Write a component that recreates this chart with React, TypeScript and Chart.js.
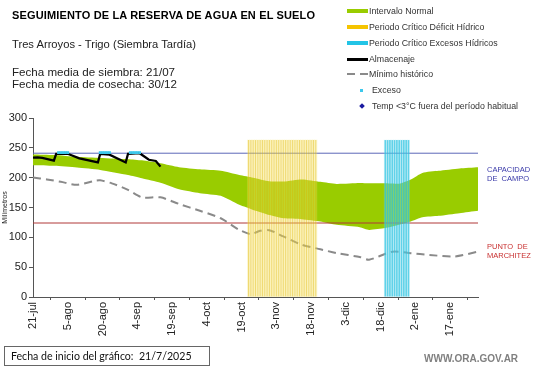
import React, { useEffect, useRef } from "react";
import { Chart, registerables } from "chart.js";

Chart.register(...registerables);

// ---- data (x = days since 21/7/2025) ----
const tickLabels = ["21-jul", "5-ago", "20-ago", "4-sep", "19-sep", "4-oct", "19-oct", "3-nov", "18-nov", "3-dic", "18-dic", "2-ene", "17-ene"];
const diasTotales = 192;

const bandDias = [0, 9, 19, 29, 41, 47, 55, 63, 72, 81, 89, 95, 102, 108, 116, 124, 131, 141, 145, 152, 158, 163, 168, 175, 184, 192];
const bandSuperior = [239, 238, 235, 233, 231, 229, 224, 217.5, 214, 211.5, 204.5, 200, 194, 193.5, 197, 193, 189.5, 191, 190.5, 190.5, 190, 197, 208, 211.5, 215.5, 217.5];
const bandInferior = [221, 220, 217, 213, 204.5, 199, 191.5, 180.5, 174, 169.5, 154.5, 146, 137.5, 132, 130.5, 126.5, 121, 117, 112.5, 115.5, 121, 126.5, 133.5, 136, 140.5, 144.5];

const minimoDias = [0, 6, 12, 19, 27, 29, 34, 41, 47, 55, 63, 72, 81, 89, 94, 98, 102, 108, 116, 124, 131, 141, 145, 155, 163, 171, 182, 192];
const minimoHistorico = [200.5, 197, 193, 188, 195, 195.5, 190.5, 179.5, 167, 167, 156, 144.5, 132, 112.5, 105.5, 111, 112, 101.5, 87.5, 80, 73.5, 67, 62.5, 76, 73.5, 70.5, 68, 76];

const almacenajeDias = [0, 2, 4, 9, 10, 15, 20, 28, 29, 33, 40, 41, 46, 50, 53, 55];
const almacenajeMm = [233.5, 234, 233, 228.5, 240, 240, 232.5, 225.5, 240, 238.5, 225.5, 240, 241, 230, 228, 218.5];

const excesoDias = [11, 12, 13, 14, 15, 29, 30, 31, 32, 33, 42, 43, 44, 45, 46];
const excesoMm = [242, 242, 242, 242, 242, 242, 242, 242, 242, 242, 242, 242, 242, 242, 242];

const periodoDeficit = [93, 122];
const periodoExcesos = [152, 162];
const alturaPeriodo = 263;

const capacidadCampo = 241;
const puntoMarchitez = 124;

const pts = (xs: number[], ys: number[]) => xs.map((x, i) => ({ x, y: ys[i] }));
const rango = (p: number[]) => {
  const out: { x: number; y: number }[] = [];
  for (let d = p[0]; d <= p[1]; d++) out.push({ x: d, y: alturaPeriodo });
  return out;
};

const FONT = "'Liberation Sans', Arial, sans-serif";

function ChartCanvas() {
  const ref = useRef<HTMLCanvasElement | null>(null);
  useEffect(() => {
    if (!ref.current) return;
    const chart = new Chart(ref.current, {
      type: "line",
      data: {
        datasets: [
          {
            type: "line",
            data: pts(excesoDias, excesoMm),
            showLine: false,
            pointStyle: "rect",
            pointRadius: 2,
            pointBackgroundColor: "#3cc8ec",
            pointBorderWidth: 0,
            order: 0,
          },
          {
            type: "line",
            data: pts(almacenajeDias, almacenajeMm),
            borderColor: "#000",
            borderWidth: 2.3,
            pointRadius: 0,
            tension: 0,
            order: 1,
          },
          {
            type: "bar",
            data: rango(periodoDeficit),
            backgroundColor: "rgba(228,190,20,0.5)",
            barPercentage: 0.45,
            categoryPercentage: 1,
            grouped: false,
            order: 2,
          },
          {
            type: "bar",
            data: rango(periodoDeficit),
            backgroundColor: "rgba(245,225,100,0.3)",
            barPercentage: 1,
            categoryPercentage: 1,
            grouped: false,
            order: 3,
          },
          {
            type: "bar",
            data: rango(periodoExcesos),
            backgroundColor: "rgba(40,195,225,0.7)",
            barPercentage: 0.7,
            categoryPercentage: 1,
            grouped: false,
            order: 2,
          },
          {
            type: "bar",
            data: rango(periodoExcesos),
            backgroundColor: "rgba(150,225,240,0.25)",
            barPercentage: 1,
            categoryPercentage: 1,
            grouped: false,
            order: 3,
          },
          {
            type: "line",
            data: pts(minimoDias, minimoHistorico),
            borderColor: "#8a8a8a",
            borderWidth: 2,
            borderDash: [8, 5],
            pointRadius: 0,
            tension: 0.25,
            order: 4,
          },
          {
            type: "line",
            data: [{ x: 0, y: capacidadCampo }, { x: diasTotales, y: capacidadCampo }],
            borderColor: "#5d68b8",
            borderWidth: 1,
            pointRadius: 0,
            order: 5,
          },
          {
            type: "line",
            data: [{ x: 0, y: puntoMarchitez }, { x: diasTotales, y: puntoMarchitez }],
            borderColor: "#b03838",
            borderWidth: 1,
            pointRadius: 0,
            order: 5,
          },
          {
            type: "line",
            data: pts(bandDias, bandSuperior),
            borderWidth: 0,
            borderColor: "rgba(0,0,0,0)",
            backgroundColor: "#99cc00",
            fill: "+1",
            pointRadius: 0,
            tension: 0.2,
            order: 6,
          },
          {
            type: "line",
            data: pts(bandDias, bandInferior),
            borderWidth: 0,
            borderColor: "rgba(0,0,0,0)",
            pointRadius: 0,
            tension: 0.2,
            fill: false,
            order: 6,
          },
        ] as any,
      },
      options: {
        animation: false,
        responsive: false,
        devicePixelRatio: 1,
        layout: { padding: { left: 0, right: 63, top: 118, bottom: 0 } },
        plugins: { legend: { display: false }, tooltip: { enabled: false } },
        scales: {
          x: {
            type: "linear",
            min: 0,
            max: diasTotales,
            offset: false,
            afterFit: (s: any) => {
              s.height = 71;
            },
            afterBuildTicks: (s: any) => {
              s.ticks = s.ticks.filter((t: any) => t.value % 15 === 0 && t.value / 15 < tickLabels.length);
            },
            ticks: {
              stepSize: 15,
              includeBounds: false,
              autoSkip: false,
              maxRotation: 90,
              minRotation: 90,
              padding: 2,
              color: "#222",
              font: { family: FONT, size: 11 },
              callback: (v: any) => tickLabels[Math.round(Number(v) / 15)] ?? "",
            },
            grid: { drawOnChartArea: false, tickLength: 3, color: "#555" },
            border: { color: "#555", width: 1 },
          },
          y: {
            min: 0,
            max: 300,
            afterFit: (s: any) => {
              s.width = 33;
            },
            ticks: {
              stepSize: 50,
              padding: 2,
              color: "#222",
              font: { family: FONT, size: 11 },
            },
            title: {
              display: true,
              text: "Milímetros",
              color: "#222",
              font: { family: FONT, size: 7 },
              padding: { top: 1, bottom: 0 },
            },
            grid: { drawOnChartArea: false, tickLength: 4, color: "#555" },
            border: { color: "#555", width: 1 },
          },
        },
      },
    });
    return () => chart.destroy();
  }, []);
  return <canvas ref={ref} width={541} height={368} style={{ position: "absolute", left: 0, top: 0 }} />;
}

const txt = (
  left: number,
  centerY: number,
  size: number,
  content: string,
  extra: React.CSSProperties = {}
) => (
  <div
    style={{
      position: "absolute",
      left,
      top: centerY - size / 2,
      fontSize: size,
      lineHeight: `${size}px`,
      fontFamily: FONT,
      color: "#222",
      whiteSpace: "nowrap",
      ...extra,
    }}
  >
    {content}
  </div>
);

const legendItems = [
  { label: "Intervalo Normal", y: 11, kind: "bar", color: "#99cc00" },
  { label: "Periodo Crítico Déficit Hídrico", y: 27, kind: "bar", color: "#f5c400" },
  { label: "Periodo Crítico Excesos Hídricos", y: 43, kind: "bar", color: "#22c4e6" },
  { label: "Almacenaje", y: 59, kind: "line", color: "#000" },
  { label: "Mínimo histórico", y: 74, kind: "dash", color: "#8a8a8a" },
  { label: "Exceso", y: 90, kind: "dot", color: "#3cc8ec" },
  { label: "Temp <3°C fuera del período habitual", y: 106, kind: "diamond", color: "#1a1aa0" },
];

export default function App() {
  return (
    <div style={{ position: "absolute", left: 0, top: 0, width: 541, height: 368, background: "#fff", overflow: "hidden" }}>
      <ChartCanvas />
      {txt(12, 15, 11, "SEGUIMIENTO DE LA RESERVA DE AGUA EN EL SUELO", { fontWeight: "bold", color: "#000", letterSpacing: 0.15 })}
      {txt(12, 45, 11.2, "Tres Arroyos - Trigo (Siembra Tardía)")}
      {txt(12, 72, 11.6, "Fecha media de siembra: 21/07")}
      {txt(12, 84, 11.6, "Fecha media de cosecha: 30/12")}
      {legendItems.map((it) => {
        const sw: React.ReactNode[] = [];
        if (it.kind === "bar") {
          sw.push(<div key="s" style={{ position: "absolute", left: 347, top: it.y - 2, width: 21, height: 4, background: it.color }} />);
        } else if (it.kind === "line") {
          sw.push(<div key="s" style={{ position: "absolute", left: 347, top: it.y - 1, width: 21, height: 2.5, background: it.color }} />);
        } else if (it.kind === "dash") {
          sw.push(<div key="s1" style={{ position: "absolute", left: 347, top: it.y - 1, width: 8, height: 1.5, background: it.color }} />);
          sw.push(<div key="s2" style={{ position: "absolute", left: 360, top: it.y - 1, width: 8, height: 1.5, background: it.color }} />);
        } else if (it.kind === "dot") {
          sw.push(<div key="s" style={{ position: "absolute", left: 360, top: it.y - 1.5, width: 3, height: 3, background: it.color }} />);
        } else {
          sw.push(
            <div key="s" style={{ position: "absolute", left: 359.5, top: it.y - 2, width: 4, height: 4, background: it.color, transform: "rotate(45deg)" }} />
          );
        }
        return (
          <React.Fragment key={it.label}>
            {sw}
            {txt(it.kind === "dot" || it.kind === "diamond" ? 372 : 369, it.y, 8.8, it.label, { color: "#333" })}
          </React.Fragment>
        );
      })}
      {txt(487, 170, 7.5, "CAPACIDAD", { color: "#3838a8" })}
      {txt(487, 179, 7.5, "DE  CAMPO", { color: "#3838a8", whiteSpace: "pre" })}
      {txt(487, 247, 7.5, "PUNTO  DE", { color: "#c83030", whiteSpace: "pre" })}
      {txt(487, 256, 7.5, "MARCHITEZ", { color: "#c83030" })}
      <div
        style={{
          position: "absolute",
          left: 4,
          top: 346,
          width: 206,
          height: 20,
          border: "1px solid #666",
          boxSizing: "border-box",
          fontFamily: "Lato, 'Open Sans', sans-serif",
          fontSize: 10.6,
          lineHeight: "18px",
          paddingLeft: 6,
          color: "#111",
          whiteSpace: "pre",
        }}
      >
        {"Fecha de inicio del gráfico:  21/7/2025"}
      </div>
      {txt(424, 359, 10, "WWW.ORA.GOV.AR", { fontWeight: "bold", color: "#808080" })}
    </div>
  );
}
